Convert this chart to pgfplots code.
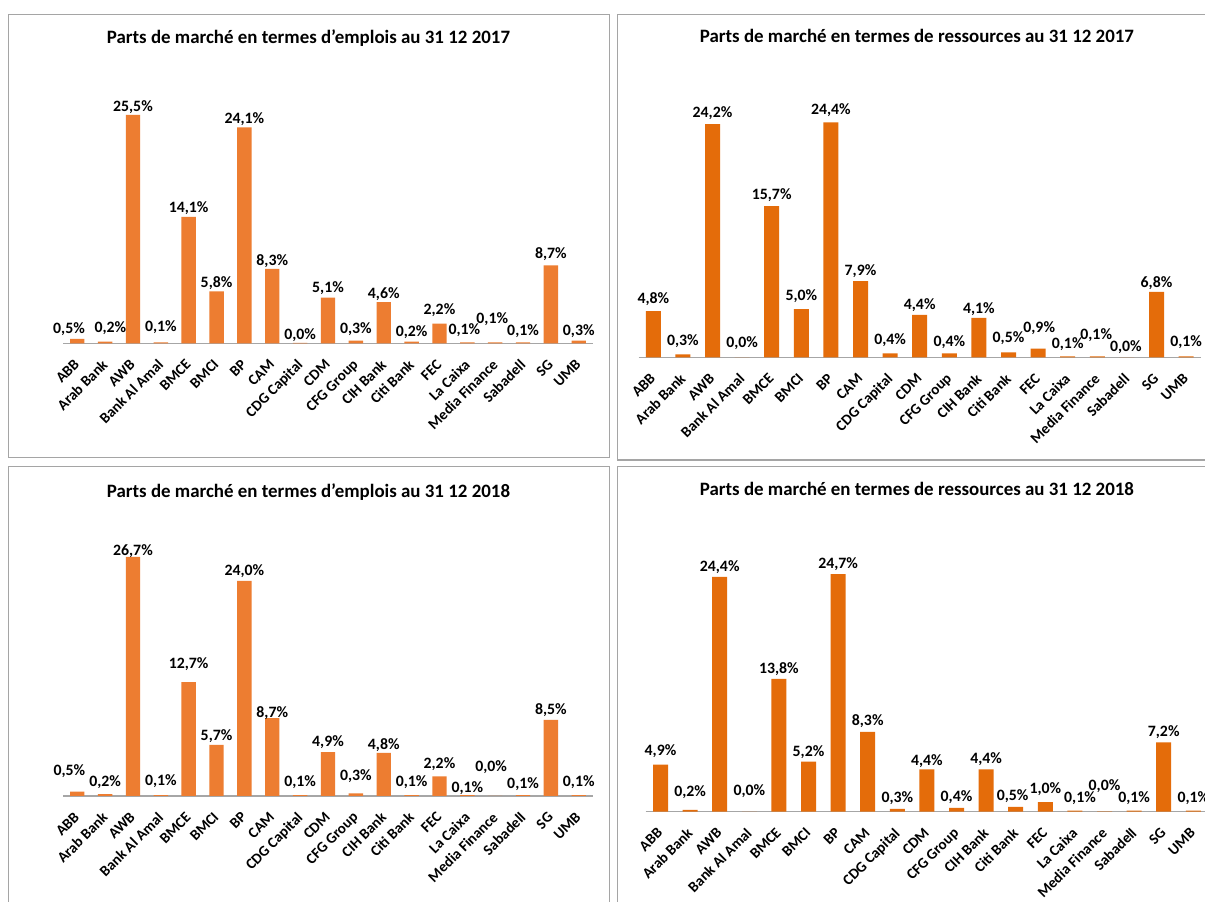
\documentclass[border=0pt]{standalone}
\usepackage{pgfplots}
\pgfplotsset{compat=1.18}
\usepackage{pgfplotstable}
\usepackage{fontspec}
\setmainfont{Carlito}
\definecolor{orA}{RGB}{237,125,49}
\definecolor{orB}{RGB}{228,108,10}
\definecolor{axg}{RGB}{166,166,166}
\definecolor{bdg}{RGB}{165,165,165}

% x y lab g(label gap px) dx
\pgfplotstableread{
x y lab g dx
0 0.5 0,5 9.7 -8.2
1 0.2 0,2 13 5.3
2 25.5 25,5 8 0
3 0.1 0,1 15.3 0
4 14.1 14,1 8.7 0
5 5.8 5,8 8.3 0
6 24.1 24,1 8.7 0
7 8.3 8,3 7.7 0
8 0.04 0,0 8 0
9 5.1 5,1 9.7 0
10 0.3 0,3 11.3 0
11 4.6 4,6 8.3 0
12 0.2 0,2 9 0
13 2.2 2,2 13.3 0
14 0.1 0,1 12 -2.9
15 0.1 0,1 23.7 -2.9
16 0.1 0,1 11.3 0
17 8.7 8,7 11 0
18 0.3 0,3 9.7 0
}\tabTL

\pgfplotstableread{
x y lab g dx
0 4.8 4,8 11.7 0
1 0.3 0,3 13.7 0
2 24.2 24,2 11 0
3 0.0 0,0 14 0
4 15.7 15,7 10.6 0
5 5.0 5,0 13.3 0
6 24.4 24,4 12.3 0
7 7.9 7,9 10 0
8 0.4 0,4 13.3 0
9 4.4 4,4 10 0
10 0.4 0,4 11.7 0
11 4.1 4,1 9 0
12 0.5 0,5 14.3 0
13 0.9 0,9 20.7 1.1
14 0.1 0,1 12.3 0
15 0.1 0,1 21.7 -1.1
16 0.0 0,0 10.6 -1.1
17 6.8 6,8 8.3 0
18 0.1 0,1 14 0
}\tabTR

\pgfplotstableread{
x y lab g dx
0 0.5 0,5 20 -7.8
1 0.2 0,2 12 0
2 26.7 26,7 5.7 0
3 0.1 0,1 13.7 0
4 12.7 12,7 18 0
5 5.7 5,7 9 0
6 24.0 24,0 10 0
7 8.7 8,7 5.3 0
8 0.1 0,1 13 0
9 4.9 4,9 10 0
10 0.3 0,3 17 0
11 4.8 4,8 8.3 0
12 0.1 0,1 12.6 0
13 2.2 2,2 12.3 0
14 0.1 0,1 6.6 0
15 0.0 0,0 28.7 -4.1
16 0.1 0,1 11 0
17 8.5 8,5 9.3 0
18 0.1 0,1 12.6 0
}\tabBL

\pgfplotstableread{
x y lab g dx
0 4.9 4,9 13.3 0
1 0.2 0,2 17.7 0
2 24.4 24,4 10.3 0
3 0.0 0,0 20.7 0
4 13.8 13,8 9.7 0
5 5.2 5,2 9.7 0
6 24.7 24,7 10 0
7 8.3 8,3 10.7 0
8 0.3 0,3 10.7 0
9 4.4 4,4 8.7 0
10 0.4 0,4 11 0
11 4.4 4,4 10.3 0
12 0.5 0,5 10.3 -3.1
13 1.0 1,0 13.3 0
14 0.1 0,1 12.7 5.1
15 0.04 0,0 25 0
16 0.1 0,1 12.7 0
17 7.2 7,2 10 0
18 0.1 0,1 12.7 0
}\tabBR

\pgfplotsset{
  panel/.style={
    scale only axis, anchor=south west,
    xmin=-0.5, xmax=18.5, ymin=0, ymax=30,
    axis x line*=bottom, axis y line=none,
    x axis line style={draw=axg, line width=1.5pt},
    ytick=\empty,
    xtick={0,...,18},
    xticklabels={ABB,Arab Bank,AWB,Bank Al Amal,BMCE,BMCI,BP,CAM,CDG Capital,CDM,CFG Group,CIH Bank,Citi Bank,FEC,La Caixa,Media Finance,Sabadell,SG,UMB},
    major tick length=0pt,
    xticklabel style={font=\fontsize{15}{17}\selectfont\bfseries, inner sep=0pt, xshift=-4pt, yshift=-15pt, rotate=45, anchor=north east},
    clip=false,
  },
  bars/.style={
    ybar, bar width=#1, draw=none,
    nodes near coords={\pgfplotspointmeta\%},
    point meta=explicit symbolic,
    visualization depends on={\thisrow{g} \as \gap},
    visualization depends on={\thisrow{dx} \as \ddx},
    every node near coord/.append style={font=\fontsize{15.8}{18}\selectfont\bfseries, inner sep=0pt, anchor=center, xshift=\ddx, yshift=\gap, text=black},
  },
}

\begin{document}
\begin{tikzpicture}[x=1pt,y=1pt]
\useasboundingbox (0pt,0pt) rectangle (1205pt,902pt);
\fill[white] (0pt,0pt) rectangle (1205pt,902pt);
\clip (0pt,0pt) rectangle (1205pt,902pt);
% panel borders
\draw[bdg, line width=1.3pt] (8.7pt,887.3pt) rectangle (609.3pt,444.3pt);
\draw[bdg, line width=1.3pt] (1210pt,887.3pt) -- (617.3pt,887.3pt) -- (617.3pt,442pt) -- (1210pt,442pt);
\draw[bdg, line width=1.3pt] (8.7pt,-5pt) -- (8.7pt,435.3pt) -- (609.3pt,435.3pt) -- (609.3pt,-5pt);
\draw[bdg, line width=1.3pt] (1210pt,435.3pt) -- (617.3pt,435.3pt) -- (617.3pt,-5pt);
% titles
\node[anchor=base, font=\fontsize{18.9}{22}\selectfont\bfseries, inner sep=0pt] at (308.5pt,858pt) {Parts de marché en termes d'emplois au 31 12 2017};
\node[anchor=base, font=\fontsize{18.9}{22}\selectfont\bfseries, inner sep=0pt] at (917pt,859pt) {Parts de marché en termes de ressources au 31 12 2017};
\node[anchor=base, font=\fontsize{18.9}{22}\selectfont\bfseries, inner sep=0pt] at (308.5pt,404.3pt) {Parts de marché en termes d'emplois au 31 12 2018};
\node[anchor=base, font=\fontsize{18.9}{22}\selectfont\bfseries, inner sep=0pt] at (917pt,406pt) {Parts de marché en termes de ressources au 31 12 2018};

\begin{axis}[panel, at={(63.3pt,558.7pt)}, width=529.4pt, height=268.8pt]
\addplot[bars=14.4pt, fill=orA] table[x=x, y=y, meta=lab] {\tabTL};
\end{axis}

\begin{axis}[panel, at={(638.5pt,544.7pt)}, width=562.4pt, height=288.9pt]
\addplot[bars=15pt, fill=orB] table[x=x, y=y, meta=lab] {\tabTR};
\end{axis}

\begin{axis}[panel, at={(63.3pt,106pt)}, width=529.4pt, height=268.8pt]
\addplot[bars=14.4pt, fill=orA] table[x=x, y=y, meta=lab] {\tabBL};
\end{axis}

\begin{axis}[panel, at={(645.7pt,90.3pt)}, width=562.4pt, height=288.6pt]
\addplot[bars=15pt, fill=orB] table[x=x, y=y, meta=lab] {\tabBR};
\end{axis}
\end{tikzpicture}
\end{document}
